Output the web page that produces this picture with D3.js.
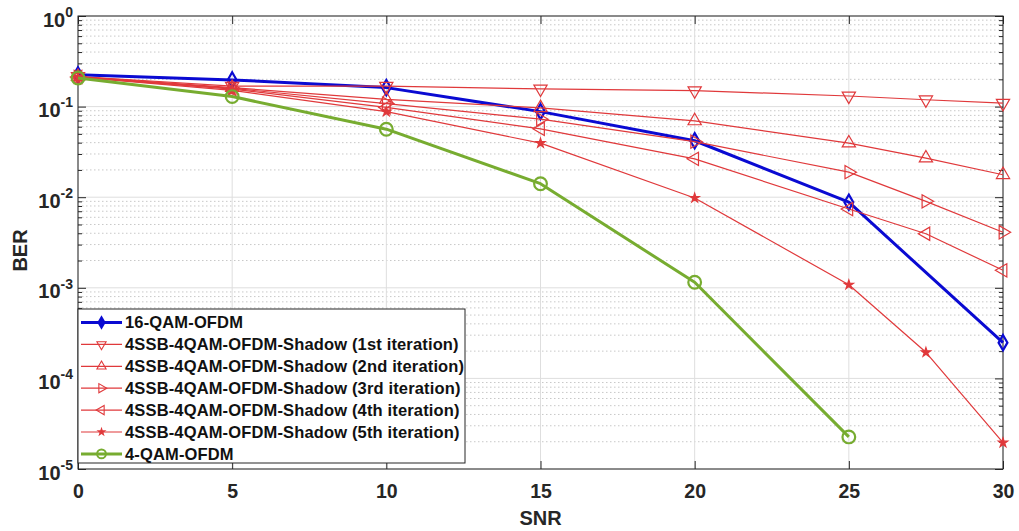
<!DOCTYPE html>
<html>
<head>
<meta charset="utf-8">
<script src="https://cdn.jsdelivr.net/npm/d3@7"></script>
<style>
  body { margin: 0; background: #fff; }
  svg { font-family: "Liberation Sans", Arial, sans-serif; }
</style>
</head>
<body>
<svg id="chart" width="1019" height="531"></svg>
<script>
// data
var snrFull = [0, 5, 10, 15, 20, 25, 27.5, 30];
var snr16 = [0, 5, 10, 15, 20, 25, 30];
var snr4 = [0, 5, 10, 15, 20, 25];

var ber16qam = [0.224, 0.197, 0.162, 0.088, 0.042, 0.0088, 0.000248];
var berIter1 = [0.215, 0.168, 0.168, 0.157, 0.150, 0.131, 0.119, 0.109];
var berIter2 = [0.214, 0.162, 0.120, 0.097, 0.0695, 0.0395, 0.027, 0.0177];
var berIter3 = [0.213, 0.159, 0.108, 0.0726, 0.041, 0.0189, 0.0090, 0.0041];
var berIter4 = [0.212, 0.156, 0.098, 0.0568, 0.0265, 0.0074, 0.00395, 0.00156];
var berIter5 = [0.211, 0.151, 0.088, 0.0395, 0.0098, 0.00108, 0.000194, 0.0000195];
var ber4qam = [0.207, 0.129, 0.0563, 0.0141, 0.00115, 0.0000226];

var xTicks = [0, 5, 10, 15, 20, 25, 30];
var yExps = [-5, -4, -3, -2, -1, 0];

var series = [
  { name: "16-QAM-OFDM", x: snr16, y: ber16qam, color: "#0a0ad2", width: 3, marker: "diamond" },
  { name: "4SSB-4QAM-OFDM-Shadow (1st iteration)", x: snrFull, y: berIter1, color: "#e0393b", width: 1.2, marker: "down" },
  { name: "4SSB-4QAM-OFDM-Shadow (2nd iteration)", x: snrFull, y: berIter2, color: "#e0393b", width: 1.2, marker: "up" },
  { name: "4SSB-4QAM-OFDM-Shadow (3rd iteration)", x: snrFull, y: berIter3, color: "#e0393b", width: 1.2, marker: "right" },
  { name: "4SSB-4QAM-OFDM-Shadow (4th iteration)", x: snrFull, y: berIter4, color: "#e0393b", width: 1.2, marker: "left" },
  { name: "4SSB-4QAM-OFDM-Shadow (5th iteration)", x: snrFull, y: berIter5, color: "#e0393b", width: 1.2, marker: "star" },
  { name: "4-QAM-OFDM", x: snr4, y: ber4qam, color: "#77ac30", width: 3, marker: "circle" }
];

var margin = {top: 16, right: 16, bottom: 62, left: 78};
var W = 1019, H = 531;
var width = W - margin.left - margin.right,
    height = H - margin.top - margin.bottom;

var svg = d3.select("#chart");
var g = svg.append("g").attr("transform", "translate(" + margin.left + "," + margin.top + ")");

var x = d3.scaleLinear().domain([0, 30]).range([0, width]);
var y = d3.scaleLog().domain([1e-5, 1]).range([height, 0]);

var majorY = yExps.map(function(e) { return Math.pow(10, e); });
var minorY = [];
yExps.slice(0, -1).forEach(function(e) {
  for (var k = 2; k <= 9; k++) minorY.push(k * Math.pow(10, e));
});

// grid
g.append("g").selectAll("line").data(minorY).enter().append("line")
  .attr("x1", 0).attr("x2", width)
  .attr("y1", function(d) { return y(d); }).attr("y2", function(d) { return y(d); })
  .attr("stroke", "#c8c8c8").attr("stroke-width", 1).attr("stroke-dasharray", "1.5,2.5");
g.append("g").selectAll("line").data(majorY).enter().append("line")
  .attr("x1", 0).attr("x2", width)
  .attr("y1", function(d) { return y(d); }).attr("y2", function(d) { return y(d); })
  .attr("stroke", "#dedede").attr("stroke-width", 1);
g.append("g").selectAll("line").data(xTicks).enter().append("line")
  .attr("y1", 0).attr("y2", height)
  .attr("x1", function(d) { return x(d); }).attr("x2", function(d) { return x(d); })
  .attr("stroke", "#dedede").attr("stroke-width", 1);

// axes with inward ticks
var axisColor = "#262626";
function styleAxis(sel) {
  sel.select(".domain").remove();
  sel.selectAll(".tick line").attr("stroke", axisColor);
}
g.append("g").attr("transform", "translate(0," + height + ")")
  .call(d3.axisBottom(x).tickValues(xTicks).tickSize(-8).tickPadding(15).tickFormat(d3.format("d")))
  .call(styleAxis)
  .selectAll("text").attr("font-size", 19.5).attr("font-weight", "bold").attr("fill", axisColor)
  .attr("font-family", "Liberation Sans, Arial, sans-serif");
g.append("g")
  .call(d3.axisTop(x).tickValues(xTicks).tickSize(-8).tickFormat(""))
  .call(styleAxis);

var yLeft = g.append("g")
  .call(d3.axisLeft(y).tickValues(majorY).tickSize(-8).tickPadding(12).tickFormat(""))
  .call(styleAxis);
g.append("g")
  .call(d3.axisLeft(y).tickValues(minorY).tickSize(-4).tickFormat(""))
  .call(styleAxis);
g.append("g").attr("transform", "translate(" + width + ",0)")
  .call(d3.axisRight(y).tickValues(majorY).tickSize(-8).tickFormat(""))
  .call(styleAxis);
g.append("g").attr("transform", "translate(" + width + ",0)")
  .call(d3.axisRight(y).tickValues(minorY).tickSize(-4).tickFormat(""))
  .call(styleAxis);

// y tick labels as 10^n
yLeft.selectAll(".tick").each(function(d) {
  var t = d3.select(this).select("text");
  t.text(null).attr("x", -5).attr("dy", "0.5em")
    .attr("font-size", 20).attr("font-weight", "bold").attr("fill", axisColor)
    .attr("font-family", "Liberation Sans, Arial, sans-serif")
    .attr("text-anchor", "end");
  t.append("tspan").text("10");
  t.append("tspan").attr("font-size", 14).attr("dy", "-0.7em")
    .text(String(Math.round(Math.log10(d))));
});

// box
g.append("rect").attr("width", width).attr("height", height)
  .attr("fill", "none").attr("stroke", axisColor).attr("stroke-width", 1);

// markers
function markerPath(type, s) {
  var sym;
  if (type === "diamond") sym = d3.symbol(d3.symbolDiamond, s * s * 0.4);
  else if (type === "circle") sym = d3.symbol(d3.symbolCircle, s * s * 0.75);
  else if (type === "star") sym = d3.symbol(d3.symbolStar, s * s * 0.22);
  else sym = d3.symbol(d3.symbolTriangle, s * s * 0.45);
  return sym();
}
function markerRot(type) {
  return {down: 180, up: 0, right: 90, left: -90}[type] || 0;
}

var line = d3.line();
series.forEach(function(s) {
  var pts = s.x.map(function(v, i) { return [x(v), y(s.y[i])]; });
  var sg = g.append("g");
  sg.append("path").attr("d", line(pts))
    .attr("fill", "none").attr("stroke", s.color).attr("stroke-width", s.width)
    .attr("stroke-linejoin", "round");
  var msize = s.marker === "star" ? 11 : 13;
  sg.selectAll("path.m").data(pts).enter().append("path").attr("class", "m")
    .attr("d", markerPath(s.marker, msize))
    .attr("transform", function(p) { return "translate(" + p[0] + "," + p[1] + ") rotate(" + markerRot(s.marker) + ")"; })
    .attr("fill", s.marker === "star" ? s.color : "none")
    .attr("stroke", s.color).attr("stroke-width", s.width > 2 ? 2.2 : 1.2);
});

// axis titles
svg.append("text").attr("x", margin.left + width / 2).attr("y", 525)
  .attr("text-anchor", "middle").attr("font-size", 20).attr("font-weight", "bold")
  .attr("fill", axisColor).text("SNR");
svg.append("text").attr("transform", "translate(27," + (margin.top + height / 2 + 8) + ") rotate(-90)")
  .attr("text-anchor", "middle").attr("font-size", 20).attr("font-weight", "bold")
  .attr("fill", axisColor).text("BER");

// legend
var lg = g.append("g").attr("transform", "translate(0," + (309 - margin.top) + ")");
lg.append("rect").attr("width", 387).attr("height", 154)
  .attr("fill", "#fff").attr("stroke", axisColor).attr("stroke-width", 1);
series.forEach(function(s, i) {
  var cy = 13.5 + i * 21.9;
  var row = lg.append("g").attr("transform", "translate(0," + cy + ")");
  row.append("line").attr("x1", 3).attr("x2", 44).attr("y1", 0).attr("y2", 0)
    .attr("stroke", s.color).attr("stroke-width", s.width);
  row.append("path").attr("d", markerPath(s.marker, s.marker === "star" ? 8 : 9))
    .attr("transform", "translate(23.5,0) rotate(" + markerRot(s.marker) + ")")
    .attr("fill", s.marker === "star" || s.marker === "diamond" ? s.color : "none")
    .attr("stroke", s.color).attr("stroke-width", s.width > 2 ? 2 : 1.1);
  row.append("text").attr("x", 47).attr("y", 0).attr("dy", "0.36em")
    .attr("font-size", 16.5).attr("font-weight", "bold").attr("fill", "#111")
    .attr("letter-spacing", 0.15)
    .text(s.name);
});
</script>
</body>
</html>
